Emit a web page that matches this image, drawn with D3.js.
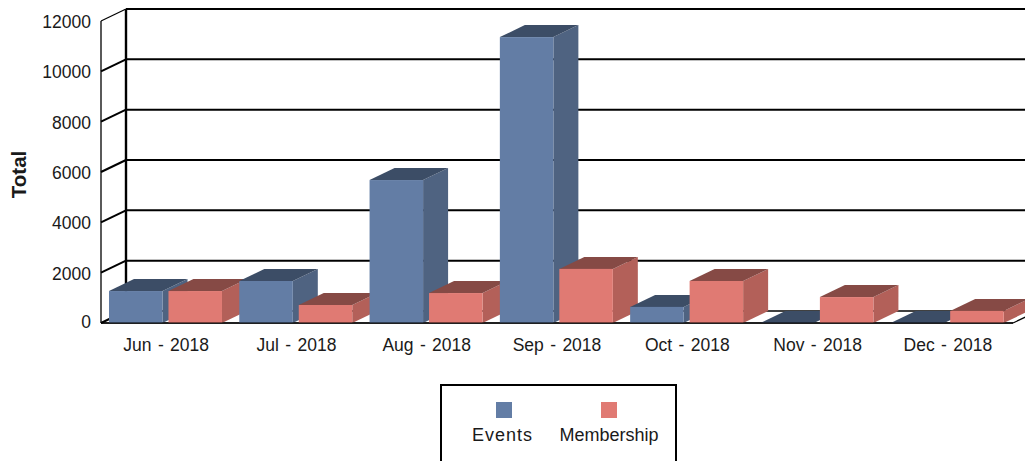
<!DOCTYPE html>
<html><head><meta charset="utf-8">
<script src="https://cdn.jsdelivr.net/npm/d3@7/dist/d3.min.js"></script>
<style>html,body{margin:0;padding:0;background:#fff;overflow:hidden}svg{display:block}text{font-family:"Liberation Sans",Arial,sans-serif;fill:#1a1a1a}</style>
</head><body><svg id="c" width="1025" height="461"></svg>
<script>
const categories=["Jun - 2018","Jul - 2018","Aug - 2018","Sep - 2018","Oct - 2018","Nov - 2018","Dec - 2018"];
const seriesNames=["Events","Membership"];
const eventsValues=[1270,1670,5680,11360,640,0,0];
const membershipValues=[1270,715,1190,2150,1670,1030,480];
const yTicks=[0,2000,4000,6000,8000,10000,12000];
const frontColors=["#637da5","#e07a73"];
const sideColors=["#4f6381","#b36059"];
const topColors=["#3c4d66","#864a45"];

const svg=d3.select("#c");
const depthX=25,depthY=12;
const x=d3.scaleBand().domain(categories).range([101,1013]);
const xs=d3.scaleBand().domain(seriesNames).range([8,x.bandwidth()-9.3]).paddingInner(0.1);
const y=d3.scaleLinear().domain([0,12000]).range([323,21]);
const values=[eventsValues,membershipValues];
const line=(g,x1,y1,x2,y2,w)=>g.append("line").attr("x1",x1).attr("y1",y1).attr("x2",x2).attr("y2",y2).attr("stroke","#000").attr("stroke-width",w);

const grid=svg.append("g");
yTicks.forEach(t=>{
  const yy=y(t);
  line(grid,x.range()[0],yy,x.range()[0]+depthX,yy-depthY,t===12000?1.2:2);
  line(grid,x.range()[0]+depthX,yy-depthY,x.range()[1]+depthX,yy-depthY,t===0?1.5:2);
});
line(grid,101,y(12000),101,y(0),1.3);
line(grid,126,y(12000)-depthY,126,y(0)-depthY,2.4);
line(grid,101,y(0),1013,y(0),1.6);
line(grid,1013,y(0),1038,y(0)-depthY,1.3);

const marks=svg.append("g");
categories.forEach((c,i)=>{
  seriesNames.forEach((s,j)=>{
    const x0=x(c)+xs(s),w=xs.bandwidth(),y1=y(values[j][i]),y0=y(0);
    const g=marks.append("g");
    const pts=a=>a.map(p=>p.join(",")).join(" ");
    g.append("polygon").attr("points",pts([[x0+w,y1],[x0+w+depthX,y1-depthY],[x0+w+depthX,y0-depthY],[x0+w,y0]])).attr("fill",sideColors[j]);
    g.append("polygon").attr("points",pts([[x0,y1],[x0+depthX,y1-depthY],[x0+w+depthX,y1-depthY],[x0+w,y1]])).attr("fill",topColors[j]);
    g.append("rect").attr("x",x0).attr("y",y1).attr("width",w).attr("height",y0-y1).attr("fill",frontColors[j]);
  });
});
line(svg,101,y(0),1013,y(0),1.2);

const axisY=d3.axisLeft(y).tickValues(yTicks).tickFormat(d3.format("d")).tickSize(0).tickPadding(0);
const gy=svg.append("g").attr("transform","translate(91,2)").call(axisY);
gy.select(".domain").remove();
gy.selectAll("text").attr("font-size",17.5).attr("font-family",null).attr("dy",null).attr("dominant-baseline","middle");
gy.selectAll(".tick").filter(d=>d===0).select("text").attr("y",-2);

const axisX=d3.axisBottom(x).tickSize(0).tickPadding(0);
const gx=svg.append("g").attr("transform","translate(0,351)").call(axisX);
gx.select(".domain").remove();
gx.selectAll("text").attr("font-size",17.5).attr("word-spacing",1.5).attr("font-family",null).attr("dy",null).attr("y",0);

svg.append("text").attr("transform","translate(26,174.5) rotate(-90)").attr("text-anchor","middle").attr("font-weight","bold").attr("font-size",20.5).text("Total");

const legendX=[504,609];
svg.append("rect").attr("x",441).attr("y",385).attr("width",235).attr("height",100).attr("fill","#fff").attr("stroke","#000").attr("stroke-width",2);
seriesNames.forEach((s,j)=>{
  svg.append("rect").attr("x",legendX[j]-8).attr("y",402).attr("width",16).attr("height",16).attr("fill",frontColors[j]);
  svg.append("text").attr("x",legendX[j]-(j?0:1.5)).attr("y",441).attr("text-anchor","middle").attr("font-size",18).attr("letter-spacing",j?0:1).text(s);
});
</script></body></html>
